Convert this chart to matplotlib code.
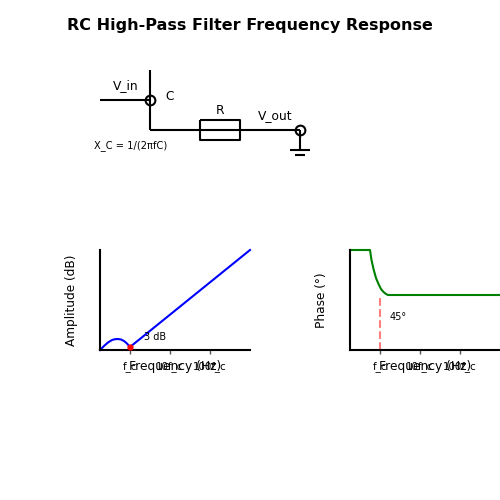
import numpy as np
from matplotlib import pyplot as plt

# Amplitude response
amp_x = [0, 4, 8, 12, 15, 18, 21, 24, 27, 30, 150]
amp_y = [0, 4, 7.5, 10, 10.8, 11, 10.5, 9, 6.5, 3, 100]

# Phase response
phase_x = [0, 20, 21.5, 23.5, 26, 28.5, 31, 33.5, 36, 38, 150]
phase_y = [100, 100, 90, 81, 72, 66, 61, 58, 56, 55, 55]

tick_pos = [30, 70, 110]
tick_labels = ['f_c', '10f_c', '100f_c']

# Circuit drawing, in pixels of the figure
wires = [
    ([100, 150], [100, 100]),
    ([150, 150], [70, 130]),
    ([150, 200], [130, 130]),
    ([200, 240, 240, 200, 200], [120, 120, 140, 140, 120]),
    ([200, 300], [130, 130]),
    ([300, 300], [130, 150]),
    ([290, 310], [150, 150]),
    ([295, 305], [155, 155]),
]
nodes_x = [150, 300]
nodes_y = [100, 130]

fig = plt.figure(figsize=(5, 5), dpi=100)
fig.text(0.5, 0.949, 'RC High-Pass Filter Frequency Response', ha='center', va='center',
         fontsize=11.5, fontweight='bold')

# Circuit
ax0 = fig.add_axes([0, 0, 1, 1])
ax0.set_xlim(0, 500)
ax0.set_ylim(500, 0)
ax0.axis('off')
for xs, ys in wires:
    ax0.plot(xs, ys, color='black', lw=1.5, solid_capstyle='butt')
ax0.plot(nodes_x, nodes_y, 'o', mfc='none', mec='black', mew=1.5, ms=7)
ax0.text(125.5, 86, 'V_in', ha='center', va='center', fontsize=8.8)
ax0.text(170, 96, 'C', ha='center', va='center', fontsize=8.8)
ax0.text(220, 111, 'R', ha='center', va='center', fontsize=8.8)
ax0.text(275, 116, 'V_out', ha='center', va='center', fontsize=8.8)
ax0.text(94, 146, 'X_C = 1/(2πfC)', ha='left', va='center', fontsize=7.1)

# Amplitude
ax1 = fig.add_axes([0.2, 0.3, 0.3, 0.2])
ax1.plot(amp_x, amp_y, color='blue', lw=1.5, clip_on=False)
ax1.plot([30], [3], 'o', color='red', ms=3.5, zorder=5, clip_on=False)
ax1.text(44, 13, '3 dB', fontsize=7, va='center')
ax1.set_ylabel('Amplitude (dB)', fontsize=8.7, labelpad=16)

# Phase
ax2 = fig.add_axes([0.7, 0.3, 0.3, 0.2])
ax2.plot(phase_x, phase_y, color='green', lw=1.5, clip_on=False)
ax2.plot([30, 30], [0, 55], color='red', lw=1.5, ls='--', alpha=0.5)
ax2.text(40, 33, '45°', fontsize=7, va='center')
ax2.set_ylabel('Phase (°)', fontsize=8.7, labelpad=16)

for ax in [ax1, ax2]:
    ax.set_xlim(0, 150)
    ax.set_ylim(0, 100)
    ax.set_xticks(tick_pos)
    ax.set_xticklabels(tick_labels, fontsize=7.4)
    ax.set_yticks([])
    ax.tick_params(axis='x', length=3, width=1, color='#555555', pad=5)
    ax.spines['top'].set_visible(False)
    ax.spines['right'].set_visible(False)
    ax.spines['left'].set_linewidth(1.5)
    ax.spines['bottom'].set_linewidth(1.5)
    ax.set_xlabel('Frequency (Hz)', fontsize=8.8, labelpad=-8.5)

fig.savefig('out.png', dpi=100)
